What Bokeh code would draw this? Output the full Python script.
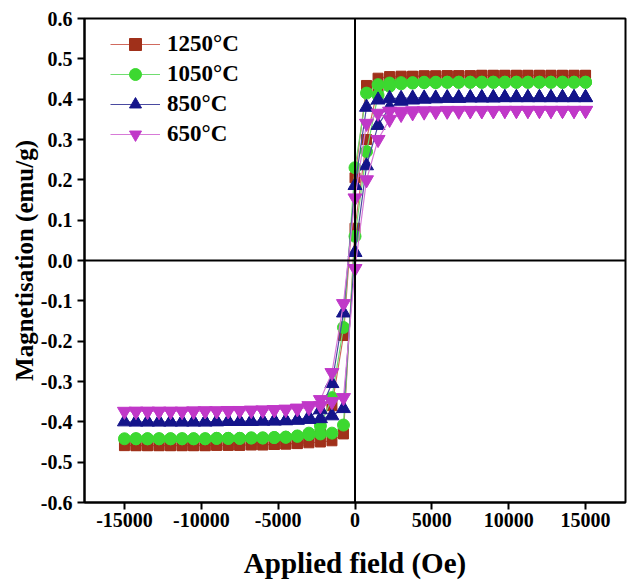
from bokeh.plotting import figure
from bokeh.models import Range1d, FixedTicker, Span, Legend, LegendItem
from bokeh.embed import file_html
from bokeh.resources import INLINE

# Field values (Oe): descending branch then ascending branch
H_desc = [15000, 14250, 13500, 12750, 12000, 11250, 10500, 9750, 9000, 8250,
          7500, 6750, 6000, 5250, 4500, 3750, 3000, 2250, 1500, 750, 0,
          -750, -1500, -2250, -3000, -3750, -4500, -5250, -6000, -6750, -7500,
          -8250, -9000, -9750, -10500, -11250, -12000, -12750, -13500, -14250, -15000]
H_asc = [-14250, -13500, -12750, -12000, -11250, -10500, -9750, -9000, -8250, -7500,
         -6750, -6000, -5250, -4500, -3750, -3000, -2250, -1500, -750, 0,
         750, 1500, 2250, 3000, 3750, 4500, 5250, 6000, 6750, 7500,
         8250, 9000, 9750, 10500, 11250, 12000, 12750, 13500, 14250, 15000]

labels = ["1250°C", "1050°C", "850°C", "650°C"]

M1250_desc = [0.459, 0.459, 0.459, 0.459, 0.459, 0.459, 0.459, 0.459, 0.459, 0.459,
              0.458, 0.458, 0.458, 0.458, 0.458, 0.457, 0.457, 0.456, 0.452, 0.434, 0.205,
              -0.186, -0.360, -0.430, -0.448, -0.453, -0.455, -0.456, -0.457, -0.457, -0.458,
              -0.458, -0.458, -0.459, -0.459, -0.459, -0.459, -0.459, -0.459, -0.459, -0.459]
M1250_asc = [-0.459, -0.459, -0.459, -0.459, -0.459, -0.459, -0.459, -0.458, -0.458, -0.458,
             -0.457, -0.457, -0.456, -0.455, -0.454, -0.452, -0.450, -0.447, -0.430, 0.080,
             0.300, 0.430, 0.450, 0.455, 0.456, 0.457, 0.457, 0.458, 0.458, 0.458,
             0.459, 0.459, 0.459, 0.459, 0.459, 0.459, 0.459, 0.459, 0.459, 0.459]

M1050_desc = [0.442, 0.442, 0.442, 0.442, 0.442, 0.442, 0.442, 0.442, 0.442, 0.442,
              0.442, 0.442, 0.442, 0.442, 0.442, 0.441, 0.441, 0.440, 0.436, 0.415, 0.230,
              -0.166, -0.340, -0.410, -0.428, -0.435, -0.438, -0.439, -0.440, -0.440, -0.441,
              -0.441, -0.441, -0.442, -0.442, -0.442, -0.442, -0.442, -0.442, -0.442, -0.442]
M1050_asc = [-0.442, -0.442, -0.442, -0.442, -0.442, -0.442, -0.442, -0.441, -0.441, -0.441,
             -0.440, -0.440, -0.439, -0.438, -0.436, -0.432, -0.430, -0.428, -0.408, 0.060,
             0.270, 0.410, 0.432, 0.438, 0.440, 0.441, 0.441, 0.442, 0.442, 0.442,
             0.442, 0.442, 0.442, 0.442, 0.442, 0.442, 0.442, 0.442, 0.442, 0.442]

M850_desc = [0.404, 0.404, 0.404, 0.404, 0.404, 0.404, 0.404, 0.404, 0.404, 0.404,
             0.404, 0.404, 0.404, 0.403, 0.403, 0.403, 0.402, 0.402, 0.398, 0.380, 0.186,
             -0.130, -0.305, -0.370, -0.388, -0.395, -0.397, -0.398, -0.398, -0.399, -0.399,
             -0.399, -0.400, -0.400, -0.400, -0.400, -0.400, -0.400, -0.400, -0.400, -0.400]
M850_asc = [-0.400, -0.400, -0.400, -0.400, -0.400, -0.400, -0.400, -0.399, -0.399, -0.399,
            -0.398, -0.398, -0.397, -0.397, -0.396, -0.394, -0.392, -0.385, -0.367, 0.020,
            0.235, 0.335, 0.380, 0.395, 0.398, 0.400, 0.401, 0.402, 0.402, 0.403,
            0.403, 0.403, 0.404, 0.404, 0.404, 0.404, 0.404, 0.404, 0.404, 0.404]

M650_desc = [0.372, 0.372, 0.372, 0.372, 0.372, 0.372, 0.372, 0.372, 0.372, 0.372,
             0.372, 0.372, 0.372, 0.371, 0.371, 0.371, 0.370, 0.370, 0.365, 0.340, 0.155,
             -0.107, -0.278, -0.345, -0.360, -0.366, -0.369, -0.370, -0.371, -0.372, -0.372,
             -0.373, -0.373, -0.373, -0.374, -0.374, -0.374, -0.374, -0.374, -0.374, -0.374]
M650_asc = [-0.374, -0.374, -0.374, -0.374, -0.374, -0.373, -0.373, -0.373, -0.372, -0.372,
            -0.371, -0.371, -0.370, -0.369, -0.368, -0.365, -0.360, -0.350, -0.340, -0.020,
            0.200, 0.300, 0.350, 0.362, 0.366, 0.368, 0.369, 0.370, 0.370, 0.371,
            0.371, 0.371, 0.372, 0.372, 0.372, 0.372, 0.372, 0.372, 0.372, 0.372]

x_ticks = [-15000, -10000, -5000, 0, 5000, 10000, 15000]
y_ticks = [-0.6, -0.5, -0.4, -0.3, -0.2, -0.1, 0.0, 0.1, 0.2, 0.3, 0.4, 0.5, 0.6]

series = [
    (labels[0], M1250_desc, M1250_asc, "square", 10, "#A0301A", "#D06A5E"),
    (labels[1], M1050_desc, M1050_asc, "circle", 12, "#3CD830", "#70DD70"),
    (labels[2], M850_desc, M850_asc, "triangle", 14, "#14148A", "#4A4AA0"),
    (labels[3], M650_desc, M650_asc, "inverted_triangle", 14, "#C038C8", "#D77AD7"),
]

FONT = "Liberation Serif"

p = figure(frame_width=541, frame_height=484, output_backend="svg", toolbar_location=None,
           x_range=Range1d(-17600, 17600), y_range=Range1d(-0.6, 0.6),
           min_border_left=84, min_border_right=2, min_border_top=18, min_border_bottom=81)
p.xgrid.visible = False
p.ygrid.visible = False
p.outline_line_color = "black"
p.outline_line_width = 2
p.background_fill_color = "white"
p.border_fill_color = "white"

for ax in (p.xaxis[0], p.yaxis[0]):
    ax.axis_line_width = 2
    ax.axis_line_color = "black"
    ax.major_tick_line_width = 2
    ax.major_tick_line_color = "black"
    ax.major_tick_out = 7
    ax.major_tick_in = 0
    ax.minor_tick_out = 0
    ax.minor_tick_in = 0
    ax.major_label_text_font = FONT
    ax.major_label_text_font_style = "bold"
    ax.major_label_text_font_size = "20px"
    ax.major_label_text_color = "black"
    ax.axis_label_text_font = FONT
    ax.axis_label_text_font_style = "bold"
    ax.axis_label_text_color = "black"

p.xaxis[0].axis_label_text_font_size = "29px"
p.yaxis[0].axis_label_text_font_size = "25px"
p.xaxis[0].ticker = FixedTicker(ticks=x_ticks)
p.xaxis[0].major_label_overrides = {t: str(t) for t in x_ticks}
p.yaxis[0].ticker = FixedTicker(ticks=y_ticks)
p.yaxis[0].major_label_overrides = {t: f"{t:.1f}" for t in y_ticks}
p.xaxis[0].axis_label = "Applied field (Oe)"
p.yaxis[0].axis_label = "Magnetisation (emu/g)"
p.xaxis[0].major_label_standoff = 3
p.xaxis[0].axis_label_standoff = 17
p.yaxis[0].major_label_standoff = 5
p.yaxis[0].axis_label_standoff = 0

items = []
for label, md, ma, marker, size, mcol, lcol in series:
    xs = H_desc + H_asc
    ys = md + ma
    lr = p.line(xs, ys, line_color=lcol, line_width=1.2)
    sr = p.scatter(xs, ys, marker=marker, size=size, fill_color=mcol, line_color=mcol)
    items.append(LegendItem(label=label, renderers=[lr, sr]))

p.add_layout(Span(location=0, dimension="height", line_color="black", line_width=2))
p.add_layout(Span(location=0, dimension="width", line_color="black", line_width=2))

legend = Legend(items=items, location=(26, 353), border_line_alpha=0, background_fill_alpha=0,
                label_text_font=FONT, label_text_font_style="bold", label_text_font_size="23px",
                label_text_color="black",
                glyph_width=50, glyph_height=30, label_height=30, spacing=0, padding=0, margin=0,
                label_standoff=7)
p.add_layout(legend)

open("out.html", "w").write(file_html(p, INLINE))
